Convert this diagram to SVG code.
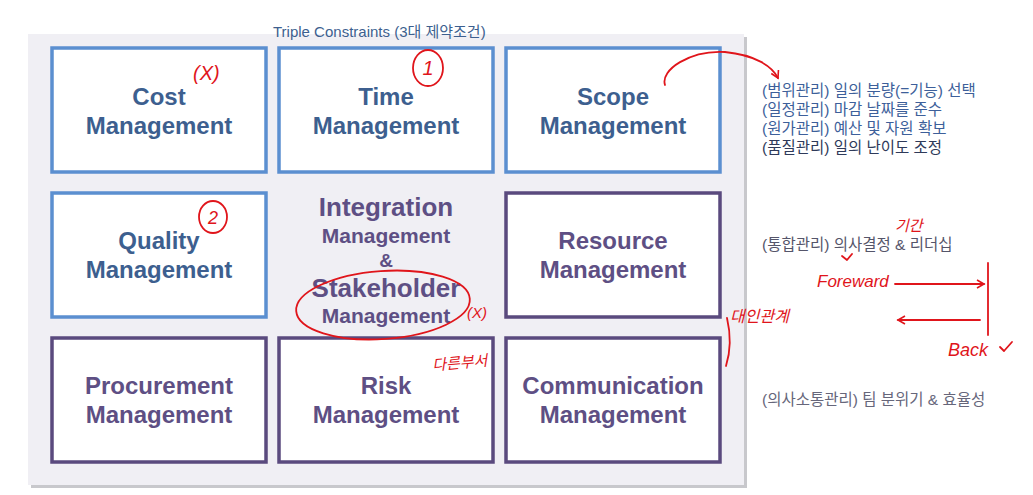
<svg xmlns="http://www.w3.org/2000/svg" width="1033" height="495" viewBox="0 0 1033 495">
<defs>
<style>
.box{fill:#ffffff;stroke-width:3.5}
.blue{stroke:#5b8fd0}
.purple{stroke:#5a4a7e}
.t{font-family:"Liberation Sans",Arial,sans-serif;font-weight:bold;font-size:24px;text-anchor:middle}
.tb{fill:#3d5f8f}
.tp{fill:#5e4f84}
.kr{font-family:"Liberation Sans","Noto Sans CJK KR",sans-serif;font-size:15.5px}
.red{fill:none;stroke:#e0151b;stroke-width:1.8;stroke-linecap:round;stroke-linejoin:round}
.hw{font-family:"Liberation Sans","Noto Sans CJK KR",sans-serif;fill:#e0151b;font-style:italic}
</style>
<marker id="ah" markerWidth="10" markerHeight="10" refX="8" refY="5" orient="auto" markerUnits="userSpaceOnUse">
<path d="M1,1 L8,5 L1,9" fill="none" stroke="#e0151b" stroke-width="1.6"/>
</marker>
</defs>
<rect width="1033" height="495" fill="#ffffff"/>
<!-- panel -->
<rect x="31" y="37" width="716" height="451" fill="#c8c8cc"/>
<rect x="28" y="34" width="716" height="451" fill="#f0eff4"/>
<text class="kr" x="273" y="37" fill="#3d5f8f" style="font-size:15px">Triple Constraints (3대 제약조건)</text>

<g id="cost"><rect class="box blue" x="52" y="48" width="214" height="124"/><text class="t tb" x="159" y="105">Cost</text><text class="t tb" x="159" y="134">Management</text></g>
<g id="time"><rect class="box blue" x="279" y="48" width="214" height="124"/><text class="t tb" x="386" y="105">Time</text><text class="t tb" x="386" y="134">Management</text></g>
<g id="scope"><rect class="box blue" x="506" y="48" width="214" height="124"/><text class="t tb" x="613" y="105">Scope</text><text class="t tb" x="613" y="134">Management</text></g>

<g id="quality"><rect class="box blue" x="52" y="193" width="214" height="124"/><text class="t tb" x="159" y="249">Quality</text><text class="t tb" x="159" y="278">Management</text></g>
<g id="integration">
<text class="t tp" x="386" y="216" style="font-size:26px">Integration</text>
<text class="t tp" x="386" y="243" style="font-size:21px">Management</text>
<text class="t tp" x="386" y="267" style="font-size:19px">&amp;</text>
<text class="t tp" x="386" y="297" style="font-size:26px">Stakeholder</text>
<text class="t tp" x="386" y="323" style="font-size:21px">Management</text>
</g>
<g id="resource"><rect class="box purple" x="506" y="193" width="214" height="124"/><text class="t tp" x="613" y="249">Resource</text><text class="t tp" x="613" y="278">Management</text></g>

<g id="procurement"><rect class="box purple" x="52" y="338" width="214" height="124"/><text class="t tp" x="159" y="394">Procurement</text><text class="t tp" x="159" y="423">Management</text></g>
<g id="risk"><rect class="box purple" x="279" y="338" width="214" height="124"/><text class="t tp" x="386" y="394">Risk</text><text class="t tp" x="386" y="423">Management</text></g>
<g id="communication"><rect class="box purple" x="506" y="338" width="214" height="124"/><text class="t tp" x="613" y="394">Communication</text><text class="t tp" x="613" y="423">Management</text></g>

<!-- right notes -->
<g id="notes" class="kr">
<text x="762" y="96" fill="#3d5f9a">(범위관리) 일의 분량(=기능) 선택</text>
<text x="762" y="115" fill="#3d5f9a">(일정관리) 마감 날짜를 준수</text>
<text x="762" y="134" fill="#3d5f9a">(원가관리) 예산 및 자원 확보</text>
<text x="762" y="153" fill="#2f3a5a">(품질관리) 일의 난이도 조정</text>
<text x="762" y="250" fill="#55556a">(통합관리) 의사결정 &amp; 리더십</text>
<text x="762" y="405" fill="#66667a">(의사소통관리) 팀 분위기 &amp; 효율성</text>
</g>

<!-- handwritten annotations -->
<g id="connectors">
<path class="red" d="M665,85 C660,70 690,50 725,52 C755,55 772,66 778,78" marker-end="url(#ah)"/>
<ellipse class="red" cx="428" cy="68" rx="15" ry="18"/>
<ellipse class="red" cx="213" cy="217" rx="14" ry="16"/>
<ellipse class="red" cx="383" cy="305" rx="87" ry="34" transform="rotate(-4 383 305)"/>
<path class="red" d="M727,318 C731,335 731,350 726,366" stroke-width="3"/>
<path class="red" d="M842,256 L847,260 L852,254"/>
<path class="red" d="M895,284 L984,284" marker-end="url(#ah)"/>
<path class="red" d="M988,263 L988,335"/>
<path class="red" d="M980,320 L898,320" marker-end="url(#ah)"/>
<path class="red" d="M1000,347 L1004,351 L1012,342"/>
</g>
<g id="handwriting">
<text class="hw" x="193" y="80" font-size="20">(X)</text>
<text class="hw" x="467" y="318" font-size="15">(X)</text>
<text class="hw" x="428" y="75" font-size="20" text-anchor="middle" font-style="normal">1</text>
<text class="hw" x="213" y="224" font-size="18" text-anchor="middle" font-style="normal">2</text>
<text class="hw" x="432" y="368" font-size="15" transform="rotate(-5 460 360)">다른부서</text>
<text class="hw" x="730" y="322" font-size="16">대인관계</text>
<text class="hw" x="895" y="231" font-size="15">기간</text>
<text class="hw" x="817" y="287" font-size="17">Foreward</text>
<text class="hw" x="948" y="356" font-size="18">Back</text>
</g>
</svg>
